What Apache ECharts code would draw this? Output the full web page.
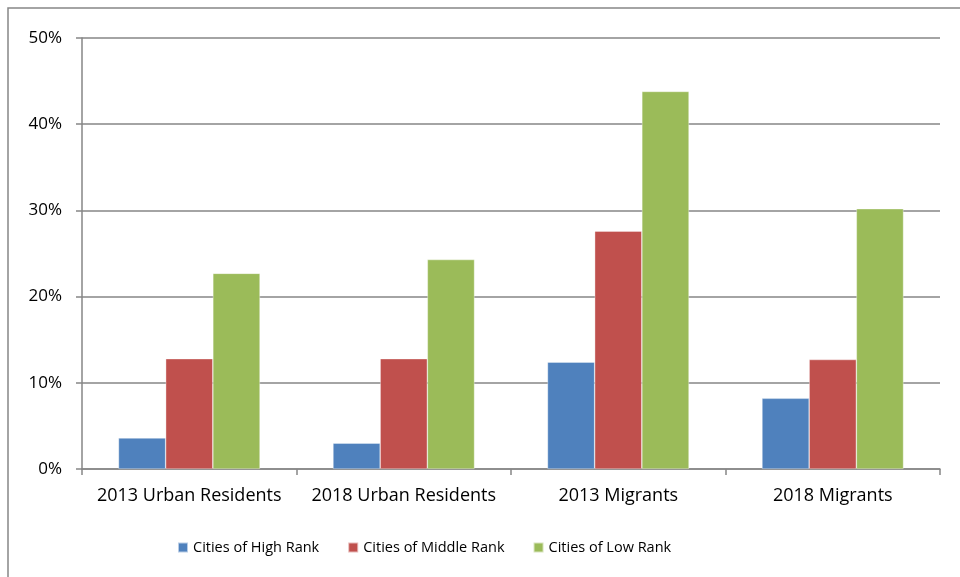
<!DOCTYPE html>
<html>
<head>
<meta charset="utf-8">
<script src="https://cdn.jsdelivr.net/npm/echarts@6/dist/echarts.min.js"></script>
<style>
  html, body { margin: 0; padding: 0; background: #fff; }
  #chart { width: 960px; height: 577px; }
</style>
</head>
<body>
<div id="chart"></div>
<script>
// Share of each group, by city rank (percent)
const categories = ['2013 Urban Residents', '2018 Urban Residents', '2013 Migrants', '2018 Migrants'];
const seriesNames = ['Cities of High Rank', 'Cities of Middle Rank', 'Cities of Low Rank'];
const highRank = [3.6, 3.0, 12.4, 8.2];
const middleRank = [12.8, 12.8, 27.6, 12.7];
const lowRank = [22.7, 24.3, 43.8, 30.2];
const yTicks = [0, 10, 20, 30, 40, 50];

const colors = ['#4F81BD', '#C0504D', '#9BBB59'];
const font = '"Open Sans", "Noto Sans", sans-serif';
const gridColor = '#868686';

const chart = echarts.init(document.getElementById('chart'), null, { renderer: 'canvas' });

function barSeries(name, data, color) {
  return {
    name: name,
    type: 'bar',
    data: data,
    barGap: '0%',
    barCategoryGap: '34%',
    itemStyle: { color: color, borderColor: 'rgba(255,255,255,0.6)', borderWidth: 0.6 },
    emphasis: { disabled: true }
  };
}

chart.setOption({
  animation: false,
  backgroundColor: '#ffffff',
  graphic: [{
    type: 'rect',
    shape: { x: 8, y: 8, width: 1000, height: 600 },
    style: { fill: 'none', stroke: gridColor, lineWidth: 1.5 },
    silent: true,
    z: -1
  }],
  grid: { left: 82, right: 20, top: 38, bottom: 108, containLabel: false },
  legend: {
    bottom: 17,
    left: 172,
    itemWidth: 10,
    itemHeight: 10,
    itemGap: 28,
    icon: 'rect',
    textStyle: { fontFamily: font, fontSize: 14.5, color: '#000' },
    data: seriesNames
  },
  xAxis: {
    type: 'category',
    data: categories,
    axisLine: { show: true, lineStyle: { color: gridColor, width: 1.5 } },
    axisTick: { show: true, alignWithLabel: false, length: 6, lineStyle: { color: gridColor, width: 1.5 } },
    axisLabel: { interval: 0, fontFamily: font, fontSize: 18, color: '#000', margin: 18 }
  },
  yAxis: {
    type: 'value',
    min: yTicks[0],
    max: yTicks[yTicks.length - 1],
    interval: 10,
    axisLine: { show: true, lineStyle: { color: gridColor, width: 1.5 } },
    axisTick: { show: true, length: 6, lineStyle: { color: gridColor, width: 1.5 } },
    axisLabel: { fontFamily: font, fontSize: 17, color: '#000', margin: 20, formatter: v => v + '%' },
    splitLine: { show: true, lineStyle: { color: gridColor, width: 1.5 } }
  },
  series: [
    barSeries(seriesNames[0], highRank, colors[0]),
    barSeries(seriesNames[1], middleRank, colors[1]),
    barSeries(seriesNames[2], lowRank, colors[2])
  ]
});
</script>
</body>
</html>
